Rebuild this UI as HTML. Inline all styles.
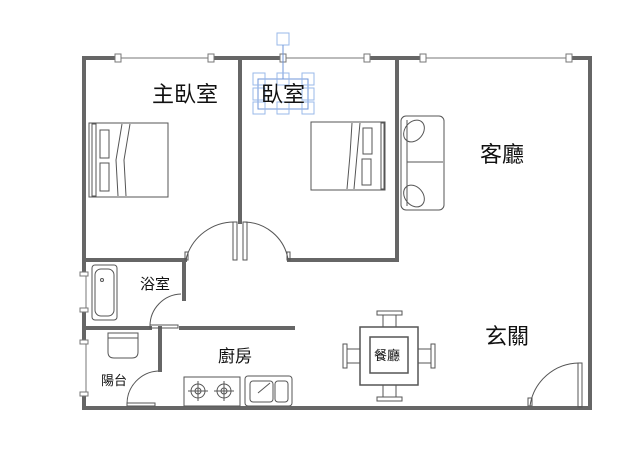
<!DOCTYPE html>
<html><head><meta charset="utf-8"><style>
body{margin:0;background:#fff;}
svg{display:block}
text{font-family:"Liberation Sans","Noto Sans CJK TC",sans-serif;fill:#111}
</style></head><body>
<svg width="638" height="460" viewBox="0 0 638 460" xmlns="http://www.w3.org/2000/svg">
<g stroke="#666" stroke-width="4" fill="none" stroke-linecap="square">
<line x1="84" y1="58" x2="118" y2="58"/>
<line x1="211" y1="58" x2="283" y2="58"/>
<line x1="367" y1="58" x2="423" y2="58"/>
<line x1="569" y1="58" x2="590" y2="58"/>
<line x1="590" y1="58" x2="590" y2="408"/>
<line x1="84" y1="408" x2="590" y2="408"/>
<line x1="84" y1="58" x2="84" y2="272"/>
<line x1="84" y1="312" x2="84" y2="340"/>
<line x1="84" y1="394" x2="84" y2="408"/>
<line x1="240" y1="58" x2="240" y2="222"/>
<line x1="397" y1="58" x2="397" y2="260"/>
<line x1="84" y1="260" x2="185" y2="260"/>
<line x1="289" y1="260" x2="397" y2="260"/>
<line x1="184" y1="260" x2="184" y2="299"/>
<line x1="84" y1="328" x2="150" y2="328"/>
<line x1="181" y1="328" x2="293" y2="328"/>
<line x1="160" y1="328" x2="160" y2="370"/>
</g>
<g stroke="#777" stroke-width="1" fill="#fff">
<line x1="118" y1="58" x2="211" y2="58"/>
<line x1="283" y1="58" x2="367" y2="58"/>
<line x1="423" y1="58" x2="569" y2="58"/>
<rect x="115" y="54" width="6" height="8"/><rect x="208" y="54" width="6" height="8"/>
<rect x="280" y="54" width="6" height="8"/><rect x="364" y="54" width="6" height="8"/>
<rect x="420" y="54" width="6" height="8"/><rect x="566" y="54" width="6" height="8"/>
<line x1="86" y1="272" x2="86" y2="312"/><line x1="86" y1="340" x2="86" y2="394"/>
<rect x="80" y="272" width="8" height="4"/><rect x="80" y="308" width="8" height="4"/>
<rect x="80" y="340" width="8" height="4"/><rect x="80" y="392" width="8" height="4"/>
</g>
<g stroke="#555" stroke-width="1" fill="none">
<path d="M186 259 A50 50 0 0 1 236 222"/><rect x="233" y="222" width="4" height="38"/><rect x="185" y="252" width="3" height="8"/>
<path d="M288 259 A45 45 0 0 0 244 222"/><rect x="243" y="222" width="4" height="38"/><rect x="287" y="252" width="3" height="8"/>
<path d="M150 326 A32 32 0 0 1 181 294"/><rect x="150" y="325" width="28" height="3"/>
<path d="M127 404 A33 33 0 0 1 158 371"/><rect x="127" y="403" width="28" height="3"/>
<path d="M530 406 A50 50 0 0 1 579 363"/><rect x="578" y="363" width="4" height="44"/><rect x="528" y="398" width="4" height="8"/>
<rect x="89" y="123" width="79" height="74"/>
<rect x="92" y="124" width="4" height="72"/>
<rect x="100" y="130" width="9" height="28"/><rect x="100" y="163" width="9" height="28"/>
<path d="M122 124 L116 160 L118 196 M130 124 L124 160 L126 196"/>
<rect x="311" y="122" width="74" height="68"/>
<rect x="381" y="123" width="3" height="66"/>
<rect x="363" y="128" width="9" height="26"/><rect x="362" y="159" width="9" height="26"/>
<path d="M352 123 L350 155 L347 189 M360 123 L357 155 L354 189"/>
<rect x="401" y="116" width="43" height="94" rx="5"/>
<line x1="407" y1="120" x2="407" y2="206"/><line x1="407" y1="162" x2="443" y2="162"/>
<ellipse cx="414" cy="131" rx="9" ry="12" transform="rotate(40 414 131)"/>
<ellipse cx="414" cy="196" rx="9" ry="12" transform="rotate(-40 414 196)"/>
<rect x="92" y="265" width="25" height="55" rx="3"/><rect x="95" y="269" width="19" height="47" rx="6"/>
<circle cx="102" cy="280" r="1.5"/>
<path d="M108 333 h30 v19 q0 6 -6 6 h-18 q-6 0 -6 -6 z"/><line x1="108" y1="338" x2="138" y2="338"/>
<rect x="184" y="377" width="56" height="29"/>
<circle cx="198" cy="391" r="7"/><circle cx="198" cy="391" r="3"/>
<circle cx="224" cy="391" r="7"/><circle cx="224" cy="391" r="3"/>
<path d="M188 391h20M198 381v20M214 391h20M224 381v20"/>
<rect x="245" y="376" width="47" height="30" rx="3"/>
<rect x="250" y="381" width="23" height="21" rx="3"/><rect x="275" y="381" width="13" height="21" rx="3"/>
<line x1="258" y1="393" x2="270" y2="383"/>
<rect x="360" y="327" width="58" height="58" stroke-width="1.5"/>
<rect x="370" y="337" width="38" height="36" stroke-width="1.5"/>
<rect x="377" y="311" width="25" height="4"/><rect x="383" y="315" width="13" height="12"/>
<rect x="377" y="397" width="25" height="4"/><rect x="383" y="385" width="13" height="12"/>
<rect x="343" y="344" width="4" height="24"/><rect x="347" y="349" width="13" height="14"/>
<rect x="431" y="344" width="4" height="24"/><rect x="418" y="349" width="13" height="14"/>
</g>
<g stroke="#9ab8ea" stroke-width="1" fill="none">
<rect x="277" y="33" width="12" height="12"/>
<line x1="283" y1="45" x2="283" y2="79" stroke="#6f96d8"/>
<rect x="258" y="79" width="50" height="30" stroke="#6f96d8"/>
<rect x="253" y="73" width="12" height="12"/><rect x="277" y="73" width="12" height="12"/><rect x="302" y="73" width="12" height="12"/>
<rect x="253" y="88" width="12" height="12"/><rect x="302" y="88" width="12" height="12"/>
<rect x="253" y="102" width="12" height="12"/><rect x="277" y="102" width="12" height="12"/><rect x="302" y="102" width="12" height="12"/>
</g>
<text x="152" y="102" font-size="22">主臥室</text>
<text x="261" y="102" font-size="22">臥室</text>
<text x="480" y="162" font-size="22">客廳</text>
<text x="485" y="344" font-size="22">玄關</text>
<text x="140" y="289" font-size="15">浴室</text>
<text x="218" y="362" font-size="17">廚房</text>
<text x="101" y="385" font-size="13">陽台</text>
<text x="374" y="360" font-size="13">餐廳</text>
</svg>
</body></html>
